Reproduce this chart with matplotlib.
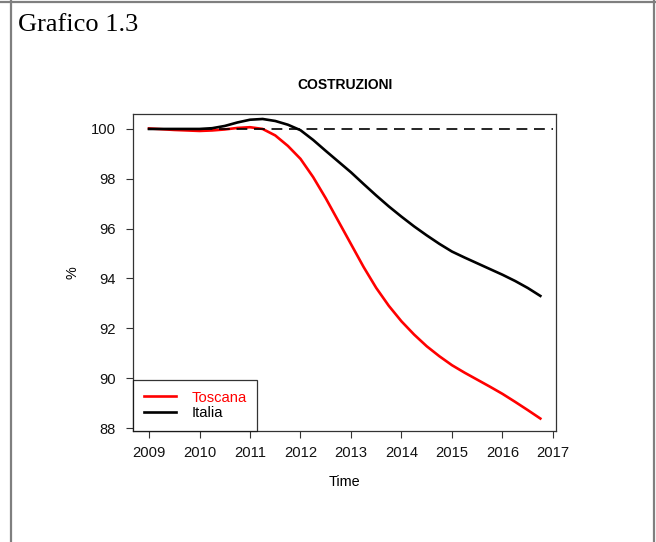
import numpy as np
import matplotlib
matplotlib.use("Agg")
import matplotlib.pyplot as plt
from matplotlib.lines import Line2D

# Quarterly index (2009 Q1 = 100), construction sector
time = [2009 + k / 4 for k in range(32)]
italia = [100.00, 100.00, 100.00, 100.00, 100.00, 100.03, 100.12, 100.26,
          100.37, 100.40, 100.32, 100.17, 99.95, 99.56, 99.12, 98.69,
          98.26, 97.79, 97.33, 96.89, 96.48, 96.09, 95.73, 95.39,
          95.08, 94.84, 94.61, 94.38, 94.15, 93.90, 93.62, 93.30]
toscana = [100.02, 99.99, 99.96, 99.94, 99.92, 99.94, 99.98, 100.04,
           100.07, 100.00, 99.74, 99.32, 98.80, 98.07, 97.22, 96.30,
           95.38, 94.46, 93.62, 92.90, 92.28, 91.75, 91.28, 90.88,
           90.52, 90.22, 89.94, 89.66, 89.37, 89.05, 88.72, 88.38]
x_ticks = list(range(2009, 2018))
y_ticks = [88, 90, 92, 94, 96, 98, 100]
base_level = 100

W, H = 656, 542
fig = plt.figure(figsize=(W / 100, H / 100), dpi=100)
fig.patch.set_facecolor("white")

# page frame
def px_line(x0, y0, x1, y1, **kw):
    fig.add_artist(Line2D([x0 / W, x1 / W], [1 - y0 / H, 1 - y1 / H],
                          transform=fig.transFigure, **kw))

frame = dict(color="#7f7f7f", lw=1.6)
px_line(11, 0, 11, H, **frame)
px_line(654, 0, 654, H, **frame)
px_line(0, 1.5, W, 1.5, **frame)

fig.text(18 / W, 1 - 25 / H, "Grafico 1.3", family="Liberation Serif",
         fontsize=19, ha="left", va="center", color="black")

ax = fig.add_axes([133 / W, 1 - 431 / H, (556 - 133) / W, (431 - 114) / H])
ax.plot(time, toscana, color="#ff0000", lw=1.9, label="Toscana")
ax.plot(time, italia, color="black", lw=1.9, label="Italia")
ax.plot([x_ticks[0], x_ticks[-1]], [base_level, base_level], color="black",
        lw=1.2, dashes=(6.5, 4))

ax.set_xlim(2008.683, 2017.06)
ax.set_ylim(87.88, 100.6)
ax.set_xticks(x_ticks)
ax.set_yticks(y_ticks)
ax.tick_params(direction="out", length=5, width=0.8, color="#333333",
               labelsize=10.6, labelcolor="#111111")
ax.tick_params(axis="x", pad=5.5)
ax.tick_params(axis="y", pad=7.5)
for lab in ax.get_xticklabels() + ax.get_yticklabels():
    lab.set_family("Liberation Sans")
for s in ax.spines.values():
    s.set_color("#333333")
    s.set_linewidth(0.9)

ax.set_title("COSTRUZIONI", family="Liberation Sans", fontweight="bold",
             fontsize=10, pad=18)
ax.set_xlabel("Time", family="Liberation Sans", fontsize=10.4, labelpad=11)
ax.set_ylabel("%", family="Liberation Sans", fontsize=10.4, labelpad=8)

leg = ax.legend(loc="lower left", bbox_to_anchor=(0.0, 0.0), frameon=True,
                fancybox=False, edgecolor="black", borderaxespad=0,
                prop={"family": "Liberation Sans", "size": 10.6},
                handlelength=2.2, handletextpad=1.05, borderpad=0.72,
                labelspacing=0.12)
leg.get_frame().set_linewidth(0.9)
leg.get_texts()[0].set_color("#ff0000")

fig.savefig("out.png", dpi=100)
